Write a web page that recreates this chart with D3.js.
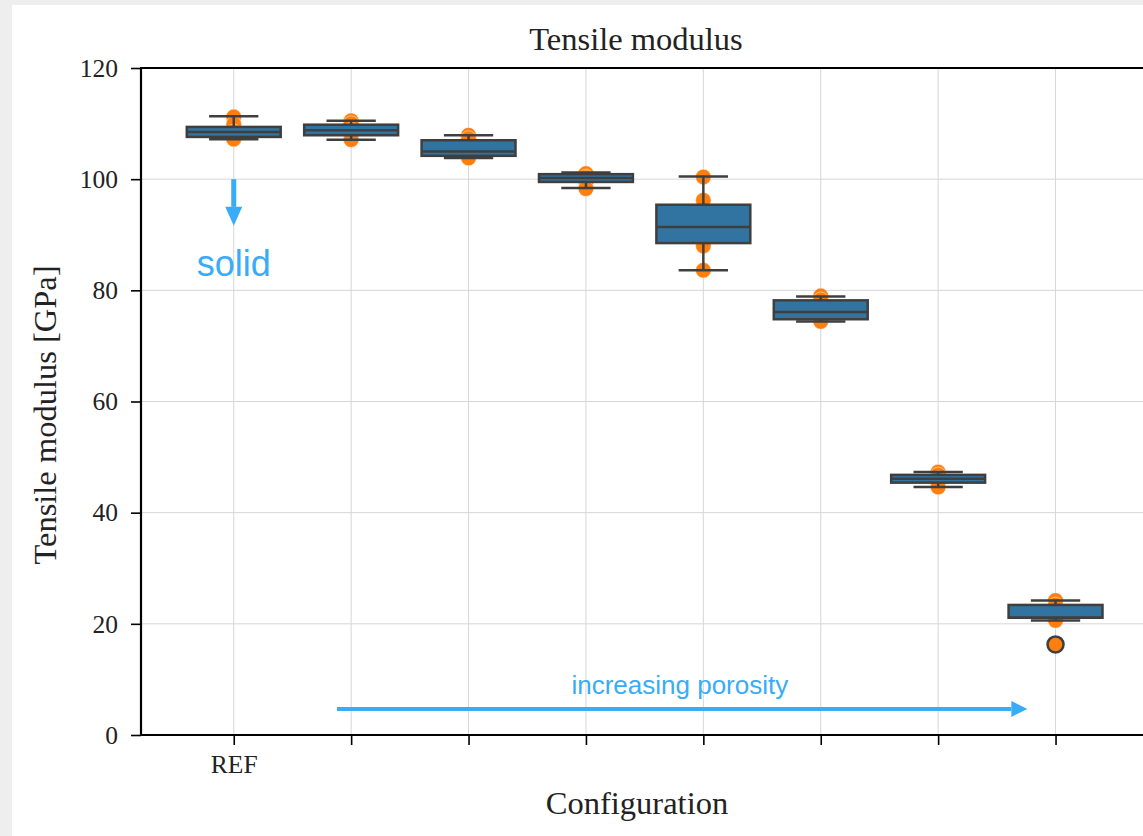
<!DOCTYPE html>
<html>
<head>
<meta charset="utf-8">
<script src="https://cdn.jsdelivr.net/npm/d3@7"></script>
<style>
  html, body { margin: 0; padding: 0; background: #eeeeee; }
  svg { display: block; }
</style>
</head>
<body>
<svg id="chart" width="1143" height="836"></svg>
<script>
// Configurations (REF = solid reference, then increasing porosity)
const configs = ["REF", "P1", "P2", "P3", "P4", "P5", "P6", "P7"];
const tickLabels = ["REF", "", "", "", "", "", "", ""];
const yTicks = [0, 20, 40, 60, 80, 100, 120];

// Box statistics per configuration [GPa]
const whiskerHigh = [111.3, 110.5, 107.9, 101.2, 100.5, 78.9, 47.3, 24.2];
const q3Values    = [109.4, 109.8, 107.0, 100.9, 95.4, 78.2, 46.8, 23.4];
const medians     = [108.5, 108.8, 105.0, 100.2, 91.4, 76.1, 46.1, 21.1];
const q1Values    = [107.6, 107.9, 104.2, 99.5, 88.5, 74.8, 45.4, 21.1];
const whiskerLow  = [107.2, 107.1, 103.8, 98.4, 83.6, 74.4, 44.6, 20.6];

// Individual specimen measurements [GPa]
const samples = [
  [111.2, 109.9, 108.5, 107.6, 107.2],
  [110.5, 110.0, 108.8, 107.9, 107.1],
  [107.9, 107.3, 105.0, 104.2, 103.8],
  [101.0, 100.4, 100.1, 99.5, 98.3],
  [100.4, 96.2, 91.4, 88.0, 83.6],
  [79.0, 78.3, 76.0, 74.8, 74.4],
  [47.3, 46.8, 46.1, 45.4, 44.6],
  [24.2, 23.4, 21.1, 20.6, 16.3]
];
const outliers = [[], [], [], [], [], [], [], [16.3]];

const svg = d3.select("#chart");
const W = 1143, H = 836;
const plot = { left: 141, top: 68, right: 1143, bottom: 735 };

const serif = "'Liberation Serif', 'Times New Roman', serif";
const sans = "'Liberation Sans', Arial, sans-serif";
const accent = "#38acf6";
const boxFill = "#3274a1";
const boxEdge = "#3f3f3f";
const pointColor = "#ff7f0e";

// page card
svg.append("rect").attr("x", 0).attr("y", 0).attr("width", W).attr("height", H).attr("fill", "#eeeeee");
svg.append("rect").attr("x", 12).attr("y", 5).attr("width", W - 12).attr("height", H - 5).attr("fill", "#ffffff");

const x = d3.scaleLinear().domain([-0.79, 7.745]).range([plot.left, plot.right]);
const y = d3.scaleLinear().domain([0, 120]).range([plot.bottom, plot.top]);
const step = x(1) - x(0);
const boxW = 0.8 * step;
const capW = 0.42 * step;

// grid
const grid = svg.append("g").attr("stroke", "#d6d6d6").attr("stroke-width", 1);
grid.selectAll("line.h").data(yTicks).join("line")
  .attr("x1", plot.left).attr("x2", plot.right)
  .attr("y1", d => y(d)).attr("y2", d => y(d));
grid.selectAll("line.v").data(d3.range(configs.length)).join("line")
  .attr("x1", d => x(d)).attr("x2", d => x(d))
  .attr("y1", plot.top).attr("y2", plot.bottom);

// specimen points (under the boxes)
const pts = svg.append("g");
samples.forEach((vals, i) => {
  pts.selectAll(null).data(vals.filter(v => !outliers[i].includes(v))).join("circle")
    .attr("cx", x(i)).attr("cy", d => y(d)).attr("r", 7.8)
    .attr("fill", pointColor).attr("stroke", "#ffffff").attr("stroke-opacity", 0.6).attr("stroke-width", 0.8);
});

// boxes
const boxes = svg.append("g").selectAll("g").data(configs).join("g");
boxes.append("line")
  .attr("x1", (d, i) => x(i)).attr("x2", (d, i) => x(i))
  .attr("y1", (d, i) => y(whiskerHigh[i])).attr("y2", (d, i) => y(q3Values[i]))
  .attr("stroke", boxEdge).attr("stroke-width", 2.5);
boxes.append("line")
  .attr("x1", (d, i) => x(i)).attr("x2", (d, i) => x(i))
  .attr("y1", (d, i) => y(q1Values[i])).attr("y2", (d, i) => y(whiskerLow[i]))
  .attr("stroke", boxEdge).attr("stroke-width", 2.5);
boxes.append("line")
  .attr("x1", (d, i) => x(i) - capW / 2).attr("x2", (d, i) => x(i) + capW / 2)
  .attr("y1", (d, i) => y(whiskerHigh[i])).attr("y2", (d, i) => y(whiskerHigh[i]))
  .attr("stroke", boxEdge).attr("stroke-width", 2.5);
boxes.append("line")
  .attr("x1", (d, i) => x(i) - capW / 2).attr("x2", (d, i) => x(i) + capW / 2)
  .attr("y1", (d, i) => y(whiskerLow[i])).attr("y2", (d, i) => y(whiskerLow[i]))
  .attr("stroke", boxEdge).attr("stroke-width", 2.5);
boxes.append("rect")
  .attr("x", (d, i) => x(i) - boxW / 2).attr("width", boxW)
  .attr("y", (d, i) => y(q3Values[i]))
  .attr("height", (d, i) => y(q1Values[i]) - y(q3Values[i]))
  .attr("fill", boxFill).attr("stroke", boxEdge).attr("stroke-width", 2.5);
boxes.append("line")
  .attr("x1", (d, i) => x(i) - boxW / 2).attr("x2", (d, i) => x(i) + boxW / 2)
  .attr("y1", (d, i) => y(medians[i])).attr("y2", (d, i) => y(medians[i]))
  .attr("stroke", boxEdge).attr("stroke-width", 2.5);

// outliers
outliers.forEach((vals, i) => {
  svg.append("g").selectAll("circle").data(vals).join("circle")
    .attr("cx", x(i)).attr("cy", d => y(d)).attr("r", 8)
    .attr("fill", pointColor).attr("stroke", boxEdge).attr("stroke-width", 2.5);
});

// axes
const xAxis = svg.append("g").attr("transform", `translate(0,${plot.bottom})`)
  .call(d3.axisBottom(x).tickValues(d3.range(configs.length)).tickFormat(i => tickLabels[i]).tickSize(10).tickPadding(10));
const yAxis = svg.append("g").attr("transform", `translate(${plot.left},0)`)
  .call(d3.axisLeft(y).tickValues(yTicks).tickSize(10).tickPadding(13));
[xAxis, yAxis].forEach(a => {
  a.select(".domain").remove();
  a.selectAll(".tick line").attr("stroke", "#000").attr("stroke-width", 1.6);
  a.selectAll(".tick text").attr("fill", "#222").style("font-family", serif).style("font-size", "25.5px");
});

// spines
const spines = svg.append("g").attr("stroke", "#000").attr("stroke-width", 2.2).attr("fill", "none");
spines.append("line").attr("x1", plot.left).attr("x2", plot.left).attr("y1", plot.top).attr("y2", plot.bottom);
spines.append("line").attr("x1", plot.left - 1).attr("x2", plot.right).attr("y1", plot.top).attr("y2", plot.top);
spines.append("line").attr("x1", plot.left - 1).attr("x2", plot.right).attr("y1", plot.bottom).attr("y2", plot.bottom);

// titles
svg.append("text").attr("x", 636).attr("y", 50).attr("text-anchor", "middle")
  .style("font-family", serif).style("font-size", "32.5px").attr("fill", "#222").text("Tensile modulus");
svg.append("text").attr("x", 637).attr("y", 814).attr("text-anchor", "middle")
  .style("font-family", serif).style("font-size", "32.5px").attr("fill", "#222").text("Configuration");
svg.append("text").attr("transform", "translate(56,415) rotate(-90)")
  .attr("text-anchor", "middle")
  .style("font-family", serif).style("font-size", "32.5px").attr("fill", "#222").text("Tensile modulus [GPa]");

// annotations
function arrow(x1, y1, x2, y2, width, headLen, headHalf) {
  const ang = Math.atan2(y2 - y1, x2 - x1);
  const bx = x2 - headLen * Math.cos(ang), by = y2 - headLen * Math.sin(ang);
  svg.append("line").attr("x1", x1).attr("y1", y1).attr("x2", bx).attr("y2", by)
    .attr("stroke", accent).attr("stroke-width", width);
  const px = -Math.sin(ang) * headHalf, py = Math.cos(ang) * headHalf;
  svg.append("path")
    .attr("d", `M${x2},${y2}L${bx + px},${by + py}L${bx - px},${by - py}Z`)
    .attr("fill", accent);
}
arrow(x(0), y(100), x(0), y(91.6), 5, 19, 8.5);
svg.append("text").attr("x", x(0)).attr("y", y(82.5)).attr("text-anchor", "middle")
  .style("font-family", sans).style("font-size", "36px").attr("fill", accent).text("solid");

arrow(x(0.88), y(4.7), x(6.76), y(4.7), 4, 16, 8);
svg.append("text").attr("x", x(3.8)).attr("y", y(7.3)).attr("text-anchor", "middle")
  .style("font-family", sans).style("font-size", "26px").attr("fill", accent).text("increasing porosity");
</script>
</body>
</html>
